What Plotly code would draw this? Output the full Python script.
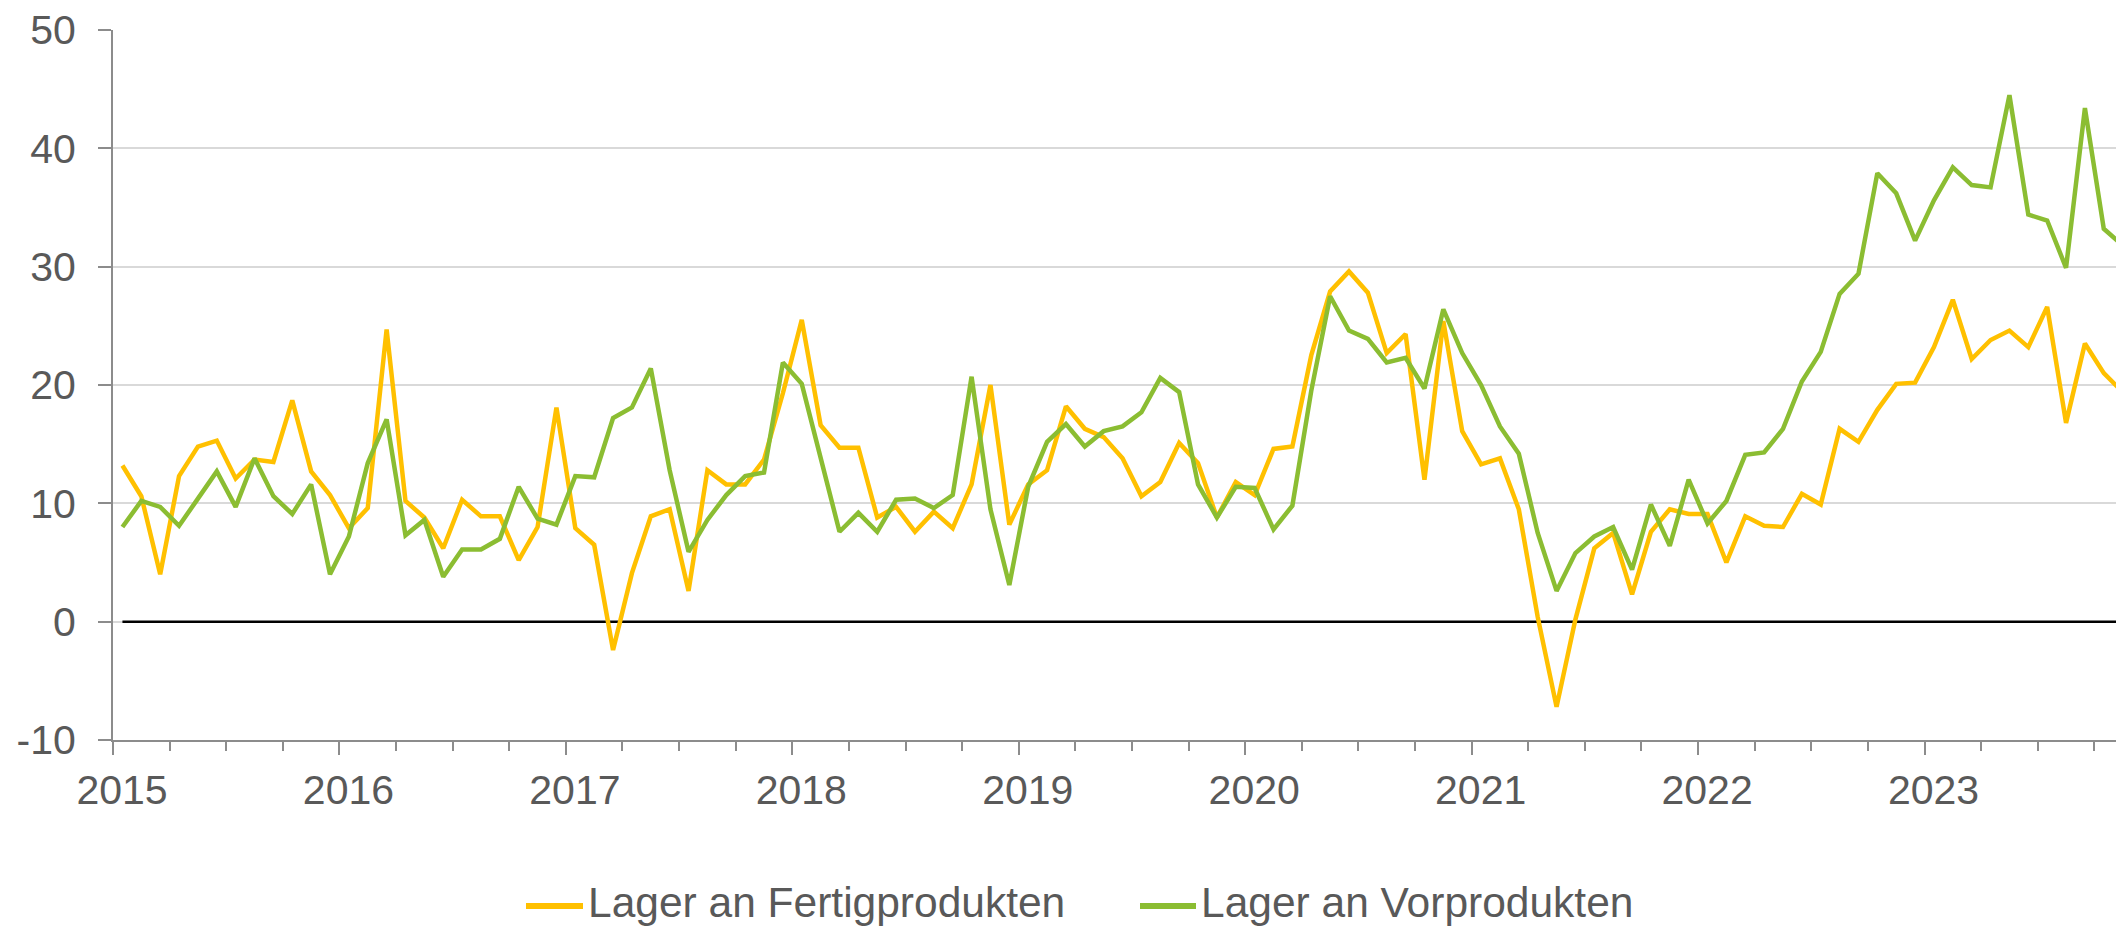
import plotly.graph_objects as go

# Monthly values, Jan 2015 .. Nov 2023
fertig = [13.2, 10.6, 4.0, 12.3, 14.8, 15.3, 12.1, 13.7, 13.5, 18.7, 12.7, 10.7,
          7.9, 9.6, 24.7, 10.2, 8.8, 6.2, 10.3, 8.9, 8.9, 5.2, 8.0, 18.1,
          7.9, 6.5, -2.4, 4.1, 8.9, 9.5, 2.6, 12.8, 11.6, 11.6, 13.7, 19.3,
          25.5, 16.6, 14.7, 14.7, 8.8, 9.7, 7.6, 9.3, 7.9, 11.6, 20.0, 8.2,
          11.6, 12.8, 18.2, 16.3, 15.6, 13.8, 10.6, 11.8, 15.1, 13.4, 8.8, 11.8,
          10.7, 14.6, 14.8, 22.5, 27.9, 29.6, 27.8, 22.7, 24.3, 12.0, 25.4, 16.1,
          13.3, 13.8, 9.5, 0.4, -7.2, 0.2, 6.2, 7.5, 2.3, 7.6, 9.5, 9.1,
          9.1, 5.0, 8.9, 8.1, 8.0, 10.8, 9.9, 16.3, 15.2, 17.9, 20.1, 20.2,
          23.2, 27.2, 22.2, 23.8, 24.6, 23.2, 26.6, 16.8, 23.5, 21.0, 19.4]

vor = [8.0, 10.2, 9.7, 8.1, 10.4, 12.7, 9.7, 13.8, 10.6, 9.1, 11.6, 4.0,
       7.2, 13.4, 17.1, 7.3, 8.6, 3.8, 6.1, 6.1, 7.0, 11.4, 8.7, 8.2,
       12.3, 12.2, 17.2, 18.1, 21.4, 12.8, 5.9, 8.6, 10.7, 12.3, 12.6, 21.9,
       20.1, 14.0, 7.6, 9.2, 7.6, 10.3, 10.4, 9.6, 10.7, 20.7, 9.5, 3.1,
       11.4, 15.2, 16.7, 14.8, 16.1, 16.5, 17.7, 20.6, 19.4, 11.6, 8.8, 11.4,
       11.3, 7.8, 9.8, 19.5, 27.5, 24.6, 23.9, 21.9, 22.3, 19.7, 26.4, 22.7,
       20.0, 16.5, 14.2, 7.5, 2.6, 5.8, 7.2, 8.0, 4.4, 9.9, 6.4, 12.0,
       8.3, 10.2, 14.1, 14.3, 16.3, 20.3, 22.8, 27.7, 29.4, 37.9, 36.2, 32.2,
       35.6, 38.4, 36.9, 36.7, 44.5, 34.4, 33.9, 29.9, 43.4, 33.2, 31.8]

years = ["2015", "2016", "2017", "2018", "2019", "2020", "2021", "2022", "2023"]
series_names = ["Lager an Fertigprodukten", "Lager an Vorprodukten"]
y_ticks = [-10, 0, 10, 20, 30, 40, 50]
y_ticktext = ["-10", "0", "10", "20", "30", "40", "50"]

YELLOW = "#FFC000"
GREEN = "#8BBD32"
TXT = "#595959"
FONT = "Liberation Sans, Arial, sans-serif"

months = list(range(len(fertig)))

W, H = 2116, 930
ML, MR, MT, MB = 113, 0, 30, 190
plot_w = W - ML - MR
plot_h = H - MT - MB
month_px = 18.87
x_end = -0.5 + plot_w / month_px

fig = go.Figure()
# zero reference line from first to last category
fig.add_trace(go.Scatter(x=[months[0], months[-1]], y=[0, 0], mode="lines",
                         line=dict(color="#000000", width=2.5),
                         showlegend=False, hoverinfo="skip"))
fig.add_trace(go.Scatter(x=months, y=fertig, mode="lines", name=series_names[0],
                         line=dict(color=YELLOW, width=4.5), showlegend=False))
fig.add_trace(go.Scatter(x=months, y=vor, mode="lines", name=series_names[1],
                         line=dict(color=GREEN, width=4.5), showlegend=False))

year_bounds = [12 * k - 0.5 for k in range(len(years))]

fig.update_layout(
    width=W, height=H,
    margin=dict(l=ML, r=MR, t=MT, b=MB, pad=0),
    paper_bgcolor="white", plot_bgcolor="white",
    font=dict(family=FONT, size=41, color=TXT),
    showlegend=False,
    xaxis=dict(
        range=[-0.5, x_end],
        tickmode="array", tickvals=year_bounds, ticktext=years,
        ticks="outside", ticklen=13, tickwidth=2, tickcolor="#8c8c8c",
        ticklabelshift=9, ticklabelstandoff=0,
        showline=True, linecolor="#8c8c8c", linewidth=2,
        showgrid=False, zeroline=False,
        minor=dict(tickmode="linear", tick0=-0.5, dtick=3, ticks="outside",
                   ticklen=9, tickwidth=2, tickcolor="#8c8c8c", showgrid=False),
        tickfont=dict(family=FONT, size=41, color=TXT),
    ),
    yaxis=dict(
        range=[-10, 50],
        tickmode="array", tickvals=y_ticks, ticktext=y_ticktext,
        ticks="outside", ticklen=13, tickwidth=2, tickcolor="#8c8c8c",
        ticklabelstandoff=14,
        showline=True, linecolor="#8c8c8c", linewidth=2,
        showgrid=True, gridcolor="#d9d9d9", gridwidth=2,
        zeroline=False,
        tickfont=dict(family=FONT, size=41, color=TXT),
    ),
)

# manual legend (pixel positions converted to paper coordinates)
def px_x(px):
    return (px - ML) / plot_w

def px_y(py):
    return (H - MB - py) / plot_h

legend_y = 903
legend_items = [(526, 583, 586, YELLOW, series_names[0]),
                (1140, 1196, 1199, GREEN, series_names[1])]
for x0, x1, xt, col, name in legend_items:
    fig.add_shape(type="line", xref="paper", yref="paper",
                  x0=px_x(x0), x1=px_x(x1), y0=px_y(legend_y + 3), y1=px_y(legend_y + 3),
                  line=dict(color=col, width=6))
    fig.add_annotation(xref="paper", yref="paper", x=px_x(xt), y=px_y(legend_y),
                       xanchor="left", yanchor="middle", showarrow=False,
                       text=name, font=dict(family=FONT, size=42.5, color=TXT))

fig.write_html("out.html", config={"displayModeBar": False},
               post_script="document.body.style.margin='0';")
